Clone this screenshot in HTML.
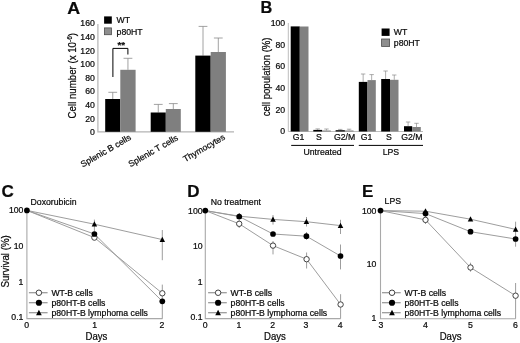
<!DOCTYPE html>
<html><head><meta charset="utf-8"><title>Figure</title>
<style>
html,body{margin:0;padding:0;background:#fff;}
svg{display:block;filter:blur(0.35px);font-family:"Liberation Sans",sans-serif;fill:#0a0a0a;}
text{stroke:#0a0a0a;stroke-width:0.22px;}
</style></head><body>
<svg width="520" height="343" viewBox="0 0 520 343">
<rect width="520" height="343" fill="#fff"/>
<text x="67.2" y="13.5" font-size="16.7" text-anchor="start" font-weight="bold" textLength="12.9" lengthAdjust="spacingAndGlyphs">A</text>
<path d="M97.9 24 V131.8 H234" fill="none" stroke="#b4b4b4" stroke-width="1.2"/>
<text x="94.8" y="135.11" font-size="8.7" text-anchor="end">0</text>
<text x="94.8" y="121.51" font-size="8.7" text-anchor="end">20</text>
<text x="94.8" y="107.91" font-size="8.7" text-anchor="end">40</text>
<text x="94.8" y="94.31" font-size="8.7" text-anchor="end">60</text>
<text x="94.8" y="80.71" font-size="8.7" text-anchor="end">80</text>
<text x="94.8" y="67.11" font-size="8.7" text-anchor="end">100</text>
<text x="94.8" y="53.51" font-size="8.7" text-anchor="end">120</text>
<text x="94.8" y="39.91" font-size="8.7" text-anchor="end">140</text>
<text x="94.8" y="26.31" font-size="8.7" text-anchor="end">160</text>
<path d="M112.75 99.0 V92.3 M108.35 92.3 H117.15" stroke="#8a8a8a" stroke-width="0.8" fill="none"/>
<rect x="105.2" y="99.0" width="15.10" height="32.80" fill="#000"/>
<path d="M127.95 69.8 V58.3 M123.55 58.3 H132.35" stroke="#8a8a8a" stroke-width="0.8" fill="none"/>
<rect x="120.3" y="69.8" width="15.30" height="62.00" fill="#7f7f7f"/>
<path d="M158.25 112.5 V104.4 M153.85 104.4 H162.65" stroke="#8a8a8a" stroke-width="0.8" fill="none"/>
<rect x="150.7" y="112.5" width="15.10" height="19.30" fill="#000"/>
<path d="M173.30 109.0 V103.6 M168.90 103.6 H177.70" stroke="#8a8a8a" stroke-width="0.8" fill="none"/>
<rect x="165.8" y="109.0" width="15.00" height="22.80" fill="#7f7f7f"/>
<path d="M203.00 55.6 V26.4 M198.60 26.4 H207.40" stroke="#8a8a8a" stroke-width="0.8" fill="none"/>
<rect x="195.3" y="55.6" width="15.40" height="76.20" fill="#000"/>
<path d="M218.30 52.0 V38.0 M213.90 38.0 H222.70" stroke="#8a8a8a" stroke-width="0.8" fill="none"/>
<rect x="210.7" y="52.0" width="15.20" height="79.80" fill="#7f7f7f"/>
<path d="M112.9 77 V48.4 H127.9 V54.5" fill="none" stroke="#000" stroke-width="1"/>
<text x="121.2" y="48.1" font-size="9.8" text-anchor="middle" font-weight="bold">**</text>
<rect x="104.1" y="16.4" width="7.7" height="7.3" fill="#000"/>
<rect x="104.5" y="27.9" width="6.9" height="6.8" fill="#8e8e8e" stroke="#4c4c4c" stroke-width="0.8"/>
<text x="116.6" y="23.41" font-size="8.7" text-anchor="start">WT</text>
<text x="116.6" y="35.31" font-size="8.7" text-anchor="start">p80HT</text>
<text transform="translate(75.7,118.4) rotate(-90) scale(0.915,1)" font-size="10.6">Cell number (x 10<tspan font-size="7" dy="-3.7">-6</tspan><tspan dy="3.7">)</tspan></text>
<text transform="translate(131.7,139.2) rotate(-30)" font-size="8.7" text-anchor="end">Splenic B cells</text>
<text transform="translate(178.7,139.5) rotate(-30)" font-size="8.7" text-anchor="end">Splenic T cells</text>
<text transform="translate(225.7,138.8) rotate(-30)" font-size="8.7" text-anchor="end">Thymocytes</text>
<text x="260.6" y="13.45" font-size="16.3" text-anchor="start" font-weight="bold">B</text>
<path d="M288.3 23 V131.5 H423" fill="none" stroke="#bdbdbd" stroke-width="1"/>
<text x="285.2" y="134.26" font-size="8.7" text-anchor="end">0</text>
<text x="285.2" y="112.6" font-size="8.7" text-anchor="end">20</text>
<text x="285.2" y="90.94" font-size="8.7" text-anchor="end">40</text>
<text x="285.2" y="69.28" font-size="8.7" text-anchor="end">60</text>
<text x="285.2" y="47.62" font-size="8.7" text-anchor="end">80</text>
<text x="285.2" y="25.96" font-size="8.7" text-anchor="end">100</text>
<rect x="290.7" y="26.4" width="9.10" height="105.10" fill="#000"/>
<rect x="299.8" y="26.5" width="8.70" height="105.00" fill="#808080"/>
<path d="M317.70 129.9 V128.9 M315.50 128.9 H319.90" stroke="#8a8a8a" stroke-width="0.7" fill="none"/>
<rect x="313.3" y="129.9" width="8.80" height="1.60" fill="#000"/>
<path d="M326.45 130.5 V129.0 M324.25 129.0 H328.65" stroke="#8a8a8a" stroke-width="0.7" fill="none"/>
<rect x="322.1" y="130.5" width="8.70" height="1.00" fill="#808080"/>
<path d="M340.25 130.2 V129.4 M338.05 129.4 H342.45" stroke="#8a8a8a" stroke-width="0.7" fill="none"/>
<rect x="335.6" y="130.2" width="9.30" height="1.30" fill="#000"/>
<path d="M349.10 130.5 V129.2 M346.90 129.2 H351.30" stroke="#8a8a8a" stroke-width="0.7" fill="none"/>
<rect x="344.7" y="130.5" width="8.80" height="1.00" fill="#808080"/>
<path d="M363.15 81.9 V74.0 M360.95 74.0 H365.35" stroke="#8a8a8a" stroke-width="0.7" fill="none"/>
<rect x="358.8" y="81.9" width="8.70" height="49.60" fill="#000"/>
<path d="M371.65 80.1 V74.6 M369.45 74.6 H373.85" stroke="#8a8a8a" stroke-width="0.7" fill="none"/>
<rect x="367.5" y="80.1" width="8.30" height="51.40" fill="#808080"/>
<path d="M385.60 79.0 V71.0 M383.40 71.0 H387.80" stroke="#8a8a8a" stroke-width="0.7" fill="none"/>
<rect x="381.2" y="79.0" width="8.80" height="52.50" fill="#000"/>
<path d="M394.25 79.8 V75.0 M392.05 75.0 H396.45" stroke="#8a8a8a" stroke-width="0.7" fill="none"/>
<rect x="390.0" y="79.8" width="8.50" height="51.70" fill="#808080"/>
<path d="M408.10 126.2 V122.0 M405.90 122.0 H410.30" stroke="#8a8a8a" stroke-width="0.7" fill="none"/>
<rect x="404.0" y="126.2" width="8.20" height="5.30" fill="#000"/>
<path d="M416.50 127.0 V123.3 M414.30 123.3 H418.70" stroke="#8a8a8a" stroke-width="0.7" fill="none"/>
<rect x="412.2" y="127.0" width="8.60" height="4.50" fill="#808080"/>
<text x="298.6" y="139.91" font-size="8.7" text-anchor="middle">G1</text>
<text x="319.0" y="139.91" font-size="8.7" text-anchor="middle">S</text>
<text x="344.5" y="139.91" font-size="8.7" text-anchor="middle">G2/M</text>
<text x="366.6" y="139.91" font-size="8.7" text-anchor="middle">G1</text>
<text x="388.8" y="139.91" font-size="8.7" text-anchor="middle">S</text>
<text x="411.9" y="139.91" font-size="8.7" text-anchor="middle">G2/M</text>
<path d="M291.2 145.4 H354 M358.8 145.4 H423" stroke="#000" stroke-width="1"/>
<text x="322.6" y="155.31" font-size="8.7" text-anchor="middle">Untreated</text>
<text x="390.9" y="155.11" font-size="8.7" text-anchor="middle">LPS</text>
<rect x="381.6" y="28.5" width="8" height="7.4" fill="#000"/>
<rect x="381.6" y="39.0" width="8" height="7.4" fill="#8e8e8e" stroke="#4c4c4c" stroke-width="0.8"/>
<text x="393.8" y="35.01" font-size="8.7" text-anchor="start">WT</text>
<text x="393.8" y="45.71" font-size="8.7" text-anchor="start">p80HT</text>
<text transform="translate(269.7,76.9) rotate(-90) scale(0.915,1)" font-size="10.5" text-anchor="middle">cell population (%)</text>
<text x="1.6" y="197.49" font-size="17" text-anchor="start" font-weight="bold">C</text>
<text x="30.6" y="205.21" font-size="8.7" text-anchor="start">Doxorubicin</text>
<path d="M26.9 210.4 V318.6 H162.6" fill="none" stroke="#a9a9a9" stroke-width="1.1"/>
<text x="23.4" y="213.11" font-size="8.7" text-anchor="end">100</text>
<text x="23.4" y="248.51" font-size="8.7" text-anchor="end">10</text>
<text x="23.4" y="284.71" font-size="8.7" text-anchor="end">1</text>
<text x="23.4" y="320.11" font-size="8.7" text-anchor="end">0.1</text>
<text x="26.7" y="328.01" font-size="8.7" text-anchor="middle">0</text>
<text x="94.6" y="328.01" font-size="8.7" text-anchor="middle">1</text>
<text x="162.0" y="328.01" font-size="8.7" text-anchor="middle">2</text>
<text transform="translate(96.4,339.5) scale(0.95,1)" font-size="10.1" text-anchor="middle">Days</text>
<line x1="94.4" x2="94.4" y1="219.6" y2="231.5" stroke="#7c7c7c" stroke-width="0.75"/>
<line x1="162.3" x2="162.3" y1="230.0" y2="260.2" stroke="#7c7c7c" stroke-width="0.75"/>
<line x1="162.3" x2="162.3" y1="284.6" y2="318.4" stroke="#7c7c7c" stroke-width="0.75"/>
<polyline points="26.9,210.4 94.4,224.2 162.3,239.6" fill="none" stroke="#989898" stroke-width="0.95"/>
<polyline points="26.9,210.4 94.4,234.0 162.3,301.3" fill="none" stroke="#989898" stroke-width="0.95"/>
<polyline points="26.9,210.4 94.4,237.6 162.3,293.3" fill="none" stroke="#989898" stroke-width="0.95"/>
<path d="M94.40 221.31 L97.15 226.54 H91.65 Z" fill="#000"/>
<path d="M162.30 236.71 L165.05 241.94 H159.55 Z" fill="#000"/>
<circle cx="94.4" cy="237.6" r="2.7" fill="#fff" stroke="#383838" stroke-width="0.95"/>
<circle cx="162.3" cy="293.3" r="2.7" fill="#fff" stroke="#383838" stroke-width="0.95"/>
<circle cx="94.4" cy="234.0" r="2.85" fill="#000"/>
<circle cx="162.3" cy="301.3" r="2.85" fill="#000"/>
<circle cx="26.9" cy="210.4" r="2.85" fill="#000"/>
<line x1="28.9" x2="47.599999999999994" y1="292.75" y2="292.75" stroke="#707070" stroke-width="0.9"/>
<circle cx="38.9" cy="292.75" r="2.75" fill="#fff" stroke="#383838" stroke-width="0.95"/>
<text x="51.4" y="295.86" font-size="8.7" text-anchor="start">WT-B cells</text>
<line x1="28.9" x2="47.599999999999994" y1="302.75" y2="302.75" stroke="#707070" stroke-width="0.9"/>
<circle cx="38.9" cy="302.75" r="3.1" fill="#000"/>
<text x="51.4" y="305.86" font-size="8.7" text-anchor="start">p80HT-B cells</text>
<line x1="28.9" x2="47.599999999999994" y1="312.75" y2="312.75" stroke="#707070" stroke-width="0.9"/>
<path d="M38.90 309.76 L41.75 315.17 H36.05 Z" fill="#000"/>
<text x="51.4" y="315.86" font-size="8.7" text-anchor="start">p80HT-B lymphoma cells</text>
<text transform="translate(8.6,261.4) rotate(-90) scale(0.925,1)" font-size="10.5" text-anchor="middle">Survival (%)</text>
<text x="187.2" y="197.49" font-size="17" text-anchor="start" font-weight="bold">D</text>
<text x="210.7" y="205.41" font-size="8.7" text-anchor="start">No treatment</text>
<path d="M205.3 210.6 V318.6 H340.7" fill="none" stroke="#a9a9a9" stroke-width="1.1"/>
<text x="202.6" y="213.71" font-size="8.7" text-anchor="end">100</text>
<text x="202.6" y="248.91" font-size="8.7" text-anchor="end">10</text>
<text x="202.6" y="285.11" font-size="8.7" text-anchor="end">1</text>
<text x="202.6" y="320.41" font-size="8.7" text-anchor="end">0.1</text>
<text x="205.1" y="328.01" font-size="8.7" text-anchor="middle">0</text>
<text x="238.8" y="328.01" font-size="8.7" text-anchor="middle">1</text>
<text x="272.7" y="328.01" font-size="8.7" text-anchor="middle">2</text>
<text x="306.0" y="328.01" font-size="8.7" text-anchor="middle">3</text>
<text x="340.2" y="328.01" font-size="8.7" text-anchor="middle">4</text>
<text transform="translate(275.0,339.5) scale(0.95,1)" font-size="10.1" text-anchor="middle">Days</text>
<line x1="239.2" x2="239.2" y1="213" y2="228" stroke="#7c7c7c" stroke-width="0.75"/>
<line x1="273.0" x2="273.0" y1="215" y2="224.6" stroke="#7c7c7c" stroke-width="0.75"/>
<line x1="273.0" x2="273.0" y1="241" y2="254.4" stroke="#7c7c7c" stroke-width="0.75"/>
<line x1="306.5" x2="306.5" y1="217" y2="226.5" stroke="#7c7c7c" stroke-width="0.75"/>
<line x1="306.5" x2="306.5" y1="232" y2="240" stroke="#7c7c7c" stroke-width="0.75"/>
<line x1="306.6" x2="306.6" y1="252.5" y2="268.5" stroke="#7c7c7c" stroke-width="0.75"/>
<line x1="340.5" x2="340.5" y1="219.8" y2="234" stroke="#7c7c7c" stroke-width="0.75"/>
<line x1="340.5" x2="340.5" y1="244.5" y2="269.4" stroke="#7c7c7c" stroke-width="0.75"/>
<line x1="340.6" x2="340.6" y1="294.2" y2="318.4" stroke="#7c7c7c" stroke-width="0.75"/>
<polyline points="205.3,210.6 239.2,216.2 273.0,219.4 306.4,221.7 340.5,225.6" fill="none" stroke="#989898" stroke-width="0.95"/>
<polyline points="205.3,210.6 239.2,216.5 273.0,234.0 306.4,236.2 340.5,256.0" fill="none" stroke="#989898" stroke-width="0.95"/>
<polyline points="205.3,210.6 239.2,223.8 273.0,245.6 306.6,259.2 340.6,304.5" fill="none" stroke="#989898" stroke-width="0.95"/>
<path d="M239.20 213.31 L241.95 218.54 H236.45 Z" fill="#000"/>
<path d="M273.00 216.51 L275.75 221.74 H270.25 Z" fill="#000"/>
<path d="M306.40 218.81 L309.15 224.04 H303.65 Z" fill="#000"/>
<path d="M340.50 222.71 L343.25 227.94 H337.75 Z" fill="#000"/>
<circle cx="239.2" cy="223.8" r="2.7" fill="#fff" stroke="#383838" stroke-width="0.95"/>
<circle cx="273.0" cy="245.6" r="2.7" fill="#fff" stroke="#383838" stroke-width="0.95"/>
<circle cx="306.6" cy="259.2" r="2.7" fill="#fff" stroke="#383838" stroke-width="0.95"/>
<circle cx="340.6" cy="304.5" r="2.7" fill="#fff" stroke="#383838" stroke-width="0.95"/>
<circle cx="239.2" cy="216.5" r="2.85" fill="#000"/>
<circle cx="273.0" cy="234.0" r="2.85" fill="#000"/>
<circle cx="306.4" cy="236.2" r="2.85" fill="#000"/>
<circle cx="340.5" cy="256.0" r="2.85" fill="#000"/>
<circle cx="205.3" cy="210.6" r="2.85" fill="#000"/>
<line x1="208.1" x2="226.79999999999998" y1="292.75" y2="292.75" stroke="#707070" stroke-width="0.9"/>
<circle cx="218.1" cy="292.75" r="2.75" fill="#fff" stroke="#383838" stroke-width="0.95"/>
<text x="230.6" y="295.86" font-size="8.7" text-anchor="start">WT-B cells</text>
<line x1="208.1" x2="226.79999999999998" y1="302.75" y2="302.75" stroke="#707070" stroke-width="0.9"/>
<circle cx="218.1" cy="302.75" r="3.1" fill="#000"/>
<text x="230.6" y="305.86" font-size="8.7" text-anchor="start">p80HT-B cells</text>
<line x1="208.1" x2="226.79999999999998" y1="312.75" y2="312.75" stroke="#707070" stroke-width="0.9"/>
<path d="M218.10 309.76 L220.95 315.17 H215.25 Z" fill="#000"/>
<text x="230.6" y="315.86" font-size="8.7" text-anchor="start">p80HT-B lymphoma cells</text>
<text x="362.0" y="197.49" font-size="17" text-anchor="start" font-weight="bold">E</text>
<text x="384.6" y="203.91" font-size="8.7" text-anchor="start">LPS</text>
<path d="M380.5 210.6 V318.7 H515.7" fill="none" stroke="#a9a9a9" stroke-width="1.1"/>
<text x="376.4" y="213.71" font-size="8.7" text-anchor="end">100</text>
<text x="376.4" y="267.31" font-size="8.7" text-anchor="end">10</text>
<text x="376.4" y="320.51" font-size="8.7" text-anchor="end">1</text>
<text x="381.0" y="328.01" font-size="8.7" text-anchor="middle">3</text>
<text x="425.5" y="328.01" font-size="8.7" text-anchor="middle">4</text>
<text x="470.5" y="328.01" font-size="8.7" text-anchor="middle">5</text>
<text x="515.4" y="328.01" font-size="8.7" text-anchor="middle">6</text>
<text transform="translate(450.6,339.5) scale(0.95,1)" font-size="10.1" text-anchor="middle">Days</text>
<line x1="425.5" x2="425.5" y1="216" y2="224" stroke="#7c7c7c" stroke-width="0.75"/>
<line x1="470.5" x2="470.5" y1="262.7" y2="271.7" stroke="#7c7c7c" stroke-width="0.75"/>
<line x1="515.6" x2="515.6" y1="221.7" y2="246.7" stroke="#7c7c7c" stroke-width="0.75"/>
<line x1="515.6" x2="515.6" y1="283.0" y2="318.6" stroke="#7c7c7c" stroke-width="0.75"/>
<polyline points="380.5,210.6 425.5,211.2 470.5,219.2 515.6,229.4" fill="none" stroke="#989898" stroke-width="0.95"/>
<polyline points="380.5,210.6 425.5,213.6 470.5,231.7 515.6,239.0" fill="none" stroke="#989898" stroke-width="0.95"/>
<polyline points="380.5,210.6 425.5,219.9 470.5,267.5 515.6,295.7" fill="none" stroke="#989898" stroke-width="0.95"/>
<path d="M425.50 208.31 L428.25 213.54 H422.75 Z" fill="#000"/>
<path d="M470.50 216.31 L473.25 221.54 H467.75 Z" fill="#000"/>
<path d="M515.60 226.51 L518.35 231.74 H512.85 Z" fill="#000"/>
<circle cx="425.5" cy="219.9" r="2.7" fill="#fff" stroke="#383838" stroke-width="0.95"/>
<circle cx="470.5" cy="267.5" r="2.7" fill="#fff" stroke="#383838" stroke-width="0.95"/>
<circle cx="515.6" cy="295.7" r="2.7" fill="#fff" stroke="#383838" stroke-width="0.95"/>
<circle cx="425.5" cy="213.6" r="2.85" fill="#000"/>
<circle cx="470.5" cy="231.7" r="2.85" fill="#000"/>
<circle cx="515.6" cy="239.0" r="2.85" fill="#000"/>
<circle cx="380.5" cy="210.6" r="2.85" fill="#000"/>
<line x1="382.0" x2="400.7" y1="292.75" y2="292.75" stroke="#707070" stroke-width="0.9"/>
<circle cx="392.0" cy="292.75" r="2.75" fill="#fff" stroke="#383838" stroke-width="0.95"/>
<text x="404.5" y="295.86" font-size="8.7" text-anchor="start">WT-B cells</text>
<line x1="382.0" x2="400.7" y1="302.75" y2="302.75" stroke="#707070" stroke-width="0.9"/>
<circle cx="392.0" cy="302.75" r="3.1" fill="#000"/>
<text x="404.5" y="305.86" font-size="8.7" text-anchor="start">p80HT-B cells</text>
<line x1="382.0" x2="400.7" y1="312.75" y2="312.75" stroke="#707070" stroke-width="0.9"/>
<path d="M392.00 309.76 L394.85 315.17 H389.15 Z" fill="#000"/>
<text x="404.5" y="315.86" font-size="8.7" text-anchor="start">p80HT-B lymphoma cells</text>
</svg>
</body></html>
